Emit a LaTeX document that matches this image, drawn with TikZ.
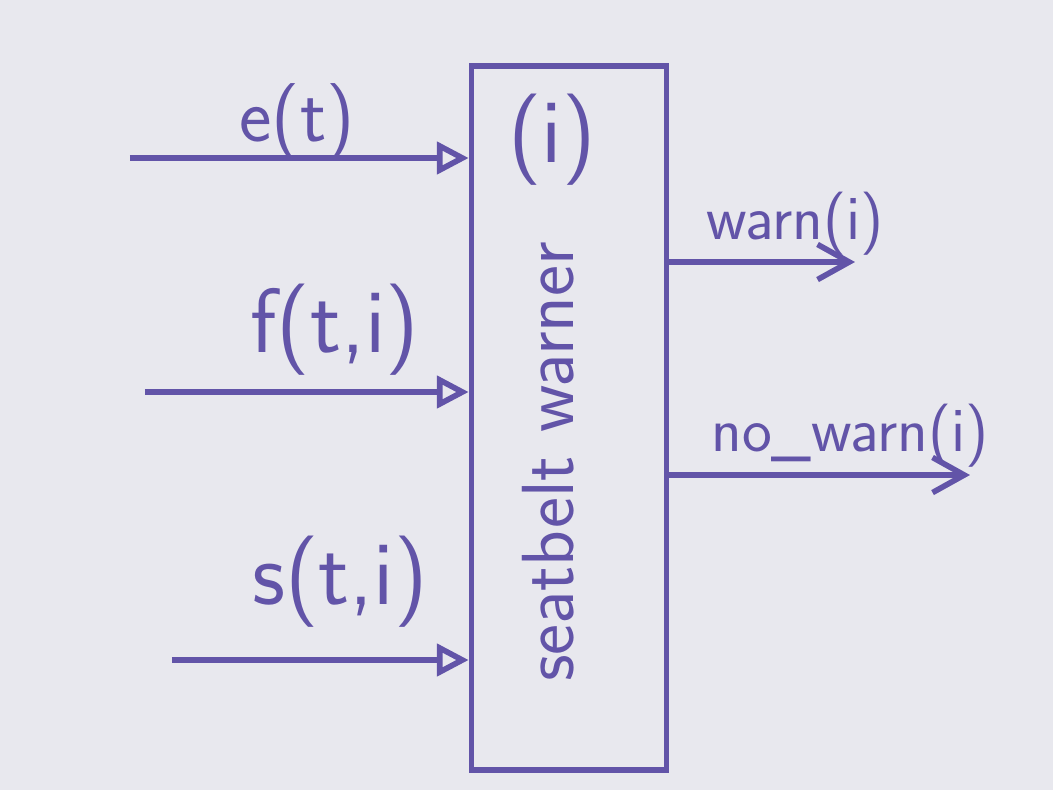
\documentclass[tikz,border=0pt]{standalone}
\usepackage{xcolor}
\usepackage{tikz}
\usetikzlibrary{arrows.meta,positioning,calc}

\definecolor{ink}{RGB}{98,84,168}
\definecolor{board}{RGB}{232,232,238}

\begin{document}
\begin{tikzpicture}[
  x=0.01cm,y=-0.01cm,
  font=\sffamily,
  block/.style={draw=ink,line width=1.6pt,minimum width=1.95cm,minimum height=7.03cm,inner sep=0pt},
  sig/.style={text=ink,inner sep=1pt},
  inarrow/.style={draw=ink,line width=1.6pt,-{Triangle[open,length=9pt,width=9pt]}},
  outarrow/.style={draw=ink,line width=1.6pt,-{Straight Barb[length=9pt,width=10pt]}}
]
\fill[board] (0,0) rectangle (1053,790);
\useasboundingbox (0,0) rectangle (1053,790);

\node[block] (warner) at (569,418) {};
\node[sig,font=\sffamily\fontsize{26}{30}\selectfont] (idx) at (552,140) {(i)};
\node[sig,rotate=90,font=\sffamily\fontsize{21}{25}\selectfont] (name) at (548,462) {seatbelt warner};

% inputs
\coordinate (ein) at (130,158);
\coordinate (fin) at (145,392);
\coordinate (sin) at (172,660);
\node[sig,font=\sffamily\fontsize{22}{26}\selectfont] (elab) at (297,122) {e(t)};
\node[sig,font=\sffamily\fontsize{26}{30}\selectfont] (flab) at (335,330) {f(t,i)};
\node[sig,font=\sffamily\fontsize{26}{30}\selectfont] (slab) at (340,582) {s(t,i)};
\draw[inarrow] (ein) -- (ein -| warner.west);
\draw[inarrow] (fin) -- (fin -| warner.west);
\draw[inarrow] (sin) -- (sin -| warner.west);

% outputs
\coordinate (wout) at (855,262);
\coordinate (nout) at (970,475);
\node[sig,font=\sffamily\fontsize{18}{21}\selectfont] (wlab) at (795,224) {warn(i)};
\node[sig,font=\sffamily\fontsize{18}{21}\selectfont] (nlab) at (850,436) {no\_warn(i)};
\draw[outarrow] (wout -| warner.east) -- (wout);
\draw[outarrow] (nout -| warner.east) -- (nout);
\end{tikzpicture}
\end{document}
